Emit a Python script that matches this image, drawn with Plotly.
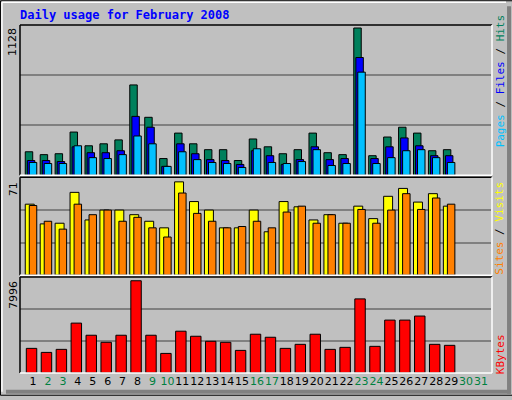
import plotly.graph_objects as go

days = list(range(1, 32))
data_days = list(range(1, 30))
hits = [180,158,165,331,226,241,271,692,444,128,323,241,196,196,113,278,218,165,196,323,173,158,1128,150,293,368,323,188,196]
files = [113,113,105,218,173,173,188,451,368,68,241,165,120,113,83,188,150,83,120,218,120,128,902,128,218,286,226,150,150]
pages = [98,90,90,226,135,128,158,301,241,68,180,120,98,90,60,203,98,90,105,196,75,90,790,90,135,188,196,135,98]
visits = [54,39,39.5,63,42,49.5,49.5,46,41,36,71,56,49.5,36,36,49.5,33,56,52,42,46,39.5,52.5,43,60,66,55.6,62,52.5]
sites = [53,41,35,54,46,49.5,41,44,36,29,62.5,47,41,36,37,41,36,48,52.5,39.5,46,39.5,50,39.5,49.5,62,50,58.7,54]
kbytes = [2135,1785,2048,4323,3273,2660,3273,7996,3273,1698,3623,3185,2748,2660,1960,3360,3098,2135,2485,3360,2048,2223,6423,2310,4585,4585,4935,2485,2398]
weekend = {2,3,9,10,16,17,23,24,30,31}
tick_text = [f'<span style="color:{"#008040" if d in weekend else "black"}">{d}</span>' for d in days]

line = dict(color="black", width=1)
fig = go.Figure()
def bar(y, color, off, w, ax):
    fig.add_trace(go.Bar(x=data_days, y=y, offset=off, width=w, marker=dict(color=color, line=line),
                         xaxis="x", yaxis=ax, showlegend=False, hoverinfo="skip"))
bar(hits, "#00805C", -0.52, 0.5, "y")
bar(files, "#0000FF", -0.38, 0.5, "y")
bar(pages, "#00C0FF", -0.25, 0.5, "y")
bar(visits, "#FFFF00", -0.52, 0.6, "y2")
bar(sites, "#FF8000", -0.25, 0.5, "y2")
bar(kbytes, "#FF0000", -0.45, 0.7, "y3")

def yax(dom, R):
    return dict(domain=dom, range=[0, R], tickvals=[R/3, 2*R/3], showticklabels=False,
                gridcolor="#808080", gridwidth=1.5, zeroline=False, showline=False, fixedrange=True)

def px(x): return (x-20)/470
def py(y): return (377-y)/352

shapes = []
def seg(x0,y0,x1,y1,c,w=1):
    shapes.append(dict(type="line", xref="paper", yref="paper", x0=px(x0), y0=py(y0), x1=px(x1), y1=py(y1), line=dict(color=c, width=w)))
shapes.append(dict(type="rect", xref="paper", yref="paper", x0=px(0.5), y0=py(0.5), x1=px(511.5), y1=py(399.5), line=dict(color="black", width=1), layer="below"))
seg(2,2,505,2,"white",1.5); seg(2,2,2,396,"white",1.5)
shapes.append(dict(type="rect", xref="paper", yref="paper", x0=px(506), y0=py(6), x1=px(510), y1=py(398), fillcolor="#808080", line=dict(width=0)))
shapes.append(dict(type="rect", xref="paper", yref="paper", x0=px(6), y0=py(394), x1=px(510), y1=py(398), fillcolor="#808080", line=dict(width=0)))
for t,b in [(25,177),(179,278),(280,377)]:
    seg(20,t,491,t,"black",1.5); seg(20,t,20,b,"black",1.5)
    seg(20,b,491,b,"white",1.5); seg(491,t,491,b,"white",1.5)

ann = [dict(text="<b>Daily usage for February 2008</b>", xref="paper", yref="paper", x=px(18), y=py(15),
            xanchor="left", yanchor="middle", showarrow=False, font=dict(family="DejaVu Sans Mono", size=12, color="#0000FF"))]
for val, top in [("1128", 26), ("71", 182), ("7996", 282)]:
    ann.append(dict(text=val, textangle=-90, xref="paper", yref="paper", x=px(13), y=py(top), xanchor="center", yanchor="top",
                    showarrow=False, font=dict(family="DejaVu Sans", size=11, color="black")))
mono = dict(family="DejaVu Sans Mono", size=11)
for txt, cy in [('<span style="color:#00C0FF">Pages</span> / <span style="color:#0000FF">Files</span> / <span style="color:#00805C">Hits</span>', 82),
                ('<span style="color:#FF8000">Sites</span> / <span style="color:#FFFF00">Visits</span>', 231),
                ('<span style="color:#FF0000">KBytes</span>', 358)]:
    ann.append(dict(text=txt, textangle=-90, xref="paper", yref="paper", x=px(499), y=py(cy), xanchor="center", yanchor="middle",
                    showarrow=False, font=dict(color="black", **mono)))

fig.update_layout(
    width=512, height=400, margin=dict(l=20, r=21, t=25, b=23),
    paper_bgcolor="#C0C0C0", plot_bgcolor="#C0C0C0", barmode="overlay",
    xaxis=dict(anchor="y3", range=[0.128, 31.67], tickvals=days, ticktext=tick_text, ticks="", tickangle=0,
               showgrid=False, zeroline=False, tickfont=dict(family="DejaVu Sans", size=11, color="black"), fixedrange=True),
    yaxis=yax([py(177), 1], 1151),
    yaxis2=yax([py(278), py(179)], 74.5),
    yaxis3=yax([0, py(280)], 8312),
    shapes=shapes, annotations=ann,
)
fig.write_html("out.html", config={"displayModeBar": False},
               post_script="document.body.style.margin='0';document.body.style.overflow='hidden';")
